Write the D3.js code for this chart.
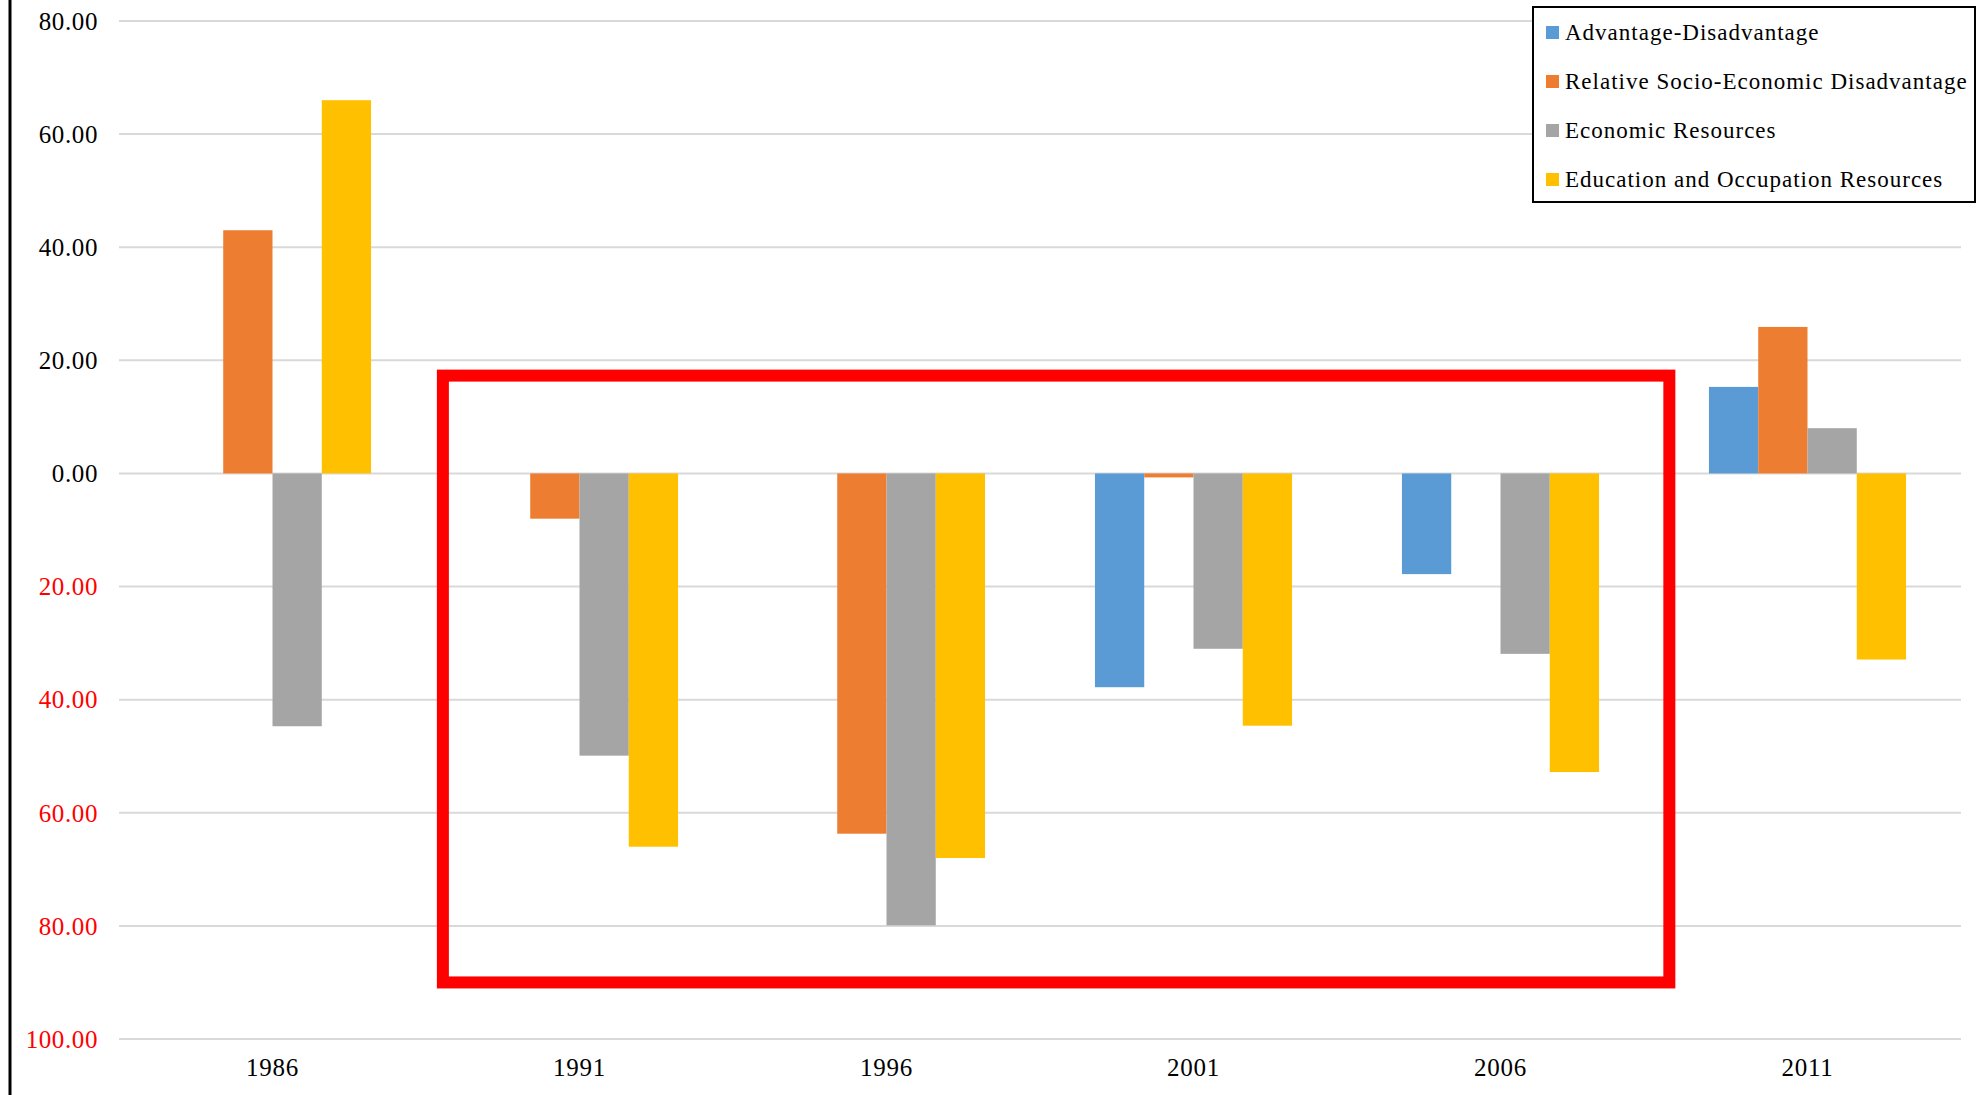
<!DOCTYPE html>
<html>
<head>
<meta charset="utf-8">
<script src="https://d3js.org/d3.v7.min.js"></script>
<style>
  body { margin: 0; background: #fff; }
  text { font-family: "Liberation Serif", "Times New Roman", serif; }
</style>
</head>
<body>
<div id="my_dataviz"></div>
<script>

// data
var years = ["1986", "1991", "1996", "2001", "2006", "2011"]
var seriesNames = ["Advantage-Disadvantage", "Relative Socio-Economic Disadvantage", "Economic Resources", "Education and Occupation Resources"]
var seriesColors = ["#5B9BD5", "#ED7D31", "#A5A5A5", "#FFC000"]

var advantageDisadvantage = [0, 0, 0, -37.8, -17.8, 15.3]
var relativeDisadvantage  = [43.0, -8.0, -63.7, -0.7, 0, 25.9]
var economicResources     = [-44.7, -49.9, -79.9, -31.0, -31.9, 8.0]
var educationOccupation   = [66.0, -66.0, -68.0, -44.6, -52.8, -32.9]

var yTicks = [80, 60, 40, 20, 0, -20, -40, -60, -80, -100]

// the red box drawn over the chart (from year to year, value range)
var highlightYears = ["1991", "2006"]
var highlightValues = [17.3, -90]

// set the dimensions of the graph
var width = 1977
var height = 1095

var svg = d3.select("#my_dataviz")
  .append("svg")
    .attr("width", width)
    .attr("height", height)

var seriesValues = [advantageDisadvantage, relativeDisadvantage, economicResources, educationOccupation]

var x0 = d3.scaleBand()
    .domain(years)
    .range([119, 1961])
    .paddingInner(0.358)
    .paddingOuter(0.179)

var x1 = d3.scaleBand()
    .domain(seriesNames)
    .range([0, x0.bandwidth()])

var y = d3.scaleLinear()
    .domain([-100, 80])
    .range([1039, 21])

var color = d3.scaleOrdinal()
    .domain(seriesNames)
    .range(seriesColors)

// left border line
svg.append("line")
    .attr("x1", 10).attr("x2", 10)
    .attr("y1", 0).attr("y2", height)
    .attr("stroke", "#000")
    .attr("stroke-width", 3)

// gridlines
svg.append("g")
  .selectAll("line")
  .data(yTicks)
  .join("line")
    .attr("x1", 119)
    .attr("x2", 1961)
    .attr("y1", d => y(d))
    .attr("y2", d => y(d))
    .attr("stroke", "#D9D9D9")
    .attr("stroke-width", 2)

// y tick labels, negatives in red without the sign
svg.append("g")
    .attr("text-anchor", "end")
    .attr("font-size", 25)
    .attr("letter-spacing", 0.6)
  .selectAll("text")
  .data(yTicks)
  .join("text")
    .attr("x", 98)
    .attr("y", d => y(d))
    .attr("dy", "0.35em")
    .attr("fill", d => d < 0 ? "#FF0000" : "#000")
    .text(d => Math.abs(d).toFixed(2))

// bars
var rows = []
years.forEach(function(yr, i) {
  seriesNames.forEach(function(s, j) {
    rows.push({year: yr, series: s, value: seriesValues[j][i]})
  })
})

svg.append("g")
  .selectAll("rect")
  .data(rows.filter(d => d.value != 0))
  .join("rect")
    .attr("x", d => x0(d.year) + x1(d.series))
    .attr("width", x1.bandwidth())
    .attr("y", d => y(Math.max(0, d.value)))
    .attr("height", d => Math.abs(y(d.value) - y(0)))
    .attr("fill", d => color(d.series))

// category labels
svg.append("g")
    .attr("text-anchor", "middle")
    .attr("font-size", 25)
    .attr("letter-spacing", 0.7)
  .selectAll("text")
  .data(years)
  .join("text")
    .attr("x", d => x0(d) + x0.bandwidth() / 2)
    .attr("y", y(-100) + 37)
    .text(d => d)

// red highlight box
var step = x0.step()
var bandStart = d => x0(d) - step * x0.paddingInner() / 2
var hx0 = bandStart(highlightYears[0]) + step * 0.055
var hx1 = bandStart(highlightYears[1]) + step * 1.05
svg.append("rect")
    .attr("x", hx0)
    .attr("y", y(highlightValues[0]))
    .attr("width", hx1 - hx0)
    .attr("height", y(highlightValues[1]) - y(highlightValues[0]))
    .attr("fill", "none")
    .attr("stroke", "#FF0000")
    .attr("stroke-width", 12)

// legend
var legend = svg.append("g")
    .attr("transform", "translate(1533,7)")

legend.append("rect")
    .attr("x", 0).attr("y", 0)
    .attr("width", 442).attr("height", 195)
    .attr("fill", "#fff")
    .attr("stroke", "#000")
    .attr("stroke-width", 2)

var item = legend.selectAll("g.item")
  .data(seriesNames)
  .join("g")
    .attr("class", "item")
    .attr("transform", (d, i) => "translate(0," + (25 + i * 49) + ")")

item.append("rect")
    .attr("x", 13)
    .attr("y", -6)
    .attr("width", 13)
    .attr("height", 13)
    .attr("fill", d => color(d))

item.append("text")
    .attr("x", 32)
    .attr("dy", "0.35em")
    .attr("font-size", 23)
    .attr("letter-spacing", 1)
    .text(d => d)

</script>
</body>
</html>
